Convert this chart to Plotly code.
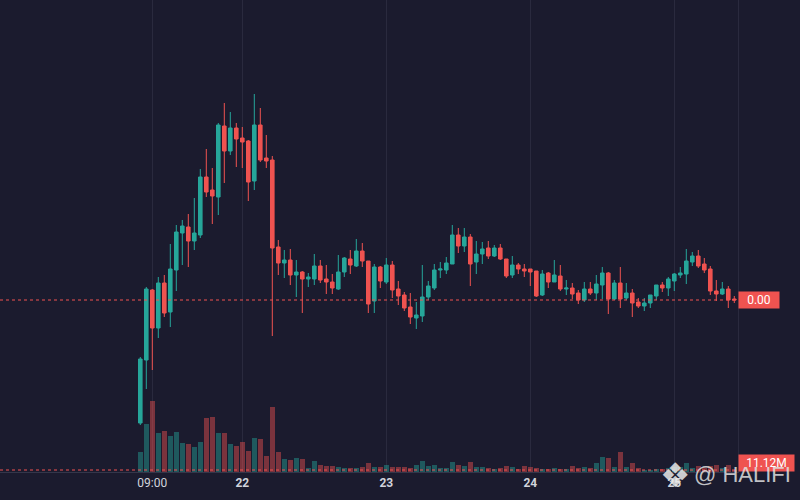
import plotly.graph_objects as go
import pandas as pd

BG = "#1b1b2e"
GRID = "#2a2a3e"
UP = "#26a69a"
DOWN = "#ef5350"

# hourly candles, 21 Mar 07:00 -> 25 Mar 10:00 (price units arbitrary)
times = pd.date_range("2024-03-21 07:00", periods=100, freq="h")

open_ = [77, 140, 210, 172, 217, 188, 230, 267, 273, 259,
         265, 323, 310, 303, 374, 349, 372, 362, 359, 319,
         375, 342, 340, 253, 237, 240, 225, 228, 221, 221,
         234, 221, 218, 211, 228, 241, 234, 249, 239, 199,
         233, 218, 235, 211, 205, 193, 182, 184, 203, 212,
         230, 230, 236, 265, 254, 263, 238, 246, 252, 244,
         252, 241, 225, 235, 231, 231, 229, 205, 227, 218,
         224, 211, 212, 207, 200, 211, 207, 215, 227, 201,
         217, 202, 207, 198, 194, 197, 204, 215, 212, 219,
         225, 226, 238, 244, 236, 231, 209, 206, 211, 201]
close = [141, 211, 172, 217, 187, 231, 268, 274, 259, 267,
         323, 308, 304, 375, 349, 372, 361, 358, 318, 375,
         340, 339, 252, 237, 240, 225, 228, 221, 223, 234,
         220, 218, 212, 228, 242, 235, 249, 239, 196, 233,
         219, 235, 210, 204, 192, 183, 185, 203, 214, 230,
         231, 237, 265, 254, 263, 236, 246, 251, 244, 252,
         241, 224, 235, 231, 229, 228, 204, 226, 218, 225,
         211, 212, 206, 200, 211, 207, 216, 227, 201, 217,
         201, 207, 197, 194, 197, 205, 215, 212, 221, 226,
         227, 239, 244, 234, 230, 209, 206, 211, 200, 200]
high = [143, 213, 211, 223, 225, 256, 275, 280, 286, 302,
        331, 351, 332, 377, 397, 388, 377, 373, 360, 406,
        392, 365, 344, 260, 250, 251, 240, 229, 227, 246,
        240, 235, 226, 245, 243, 250, 261, 257, 239, 236,
        234, 242, 239, 219, 208, 207, 198, 235, 219, 236,
        238, 243, 275, 272, 272, 266, 259, 258, 259, 255,
        256, 241, 244, 237, 236, 231, 229, 230, 228, 240,
        235, 220, 217, 210, 218, 218, 225, 233, 228, 220,
        233, 217, 211, 202, 202, 205, 215, 218, 223, 227,
        233, 251, 248, 250, 242, 234, 220, 218, 214, 204]
low = [75, 111, 130, 162, 183, 173, 209, 235, 233, 250,
       262, 303, 276, 285, 317, 345, 333, 332, 299, 310,
       338, 332, 164, 225, 222, 215, 203, 187, 213, 215,
       217, 206, 206, 210, 223, 226, 233, 233, 187, 187,
       212, 216, 202, 195, 189, 176, 171, 178, 200, 210,
       222, 226, 236, 247, 248, 214, 226, 236, 241, 243,
       240, 222, 222, 226, 223, 214, 203, 204, 212, 218,
       209, 205, 201, 196, 198, 205, 200, 201, 186, 200,
       192, 200, 183, 192, 189, 192, 200, 208, 204, 209,
       222, 216, 234, 232, 227, 205, 199, 205, 192, 197]

# volume in millions
volume = [111.2, 266.9, 394.8, 216.8, 228.0, 200.2, 222.4, 161.2, 155.7, 139.0,
          166.8, 300.2, 305.8, 216.8, 216.8, 155.7, 144.6, 166.8, 116.8, 189.0,
          183.5, 89.0, 361.4, 111.2, 72.3, 66.7, 77.8, 72.3, 22.2, 61.2,
          38.9, 33.4, 33.4, 27.8, 22.2, 22.2, 22.2, 27.8, 50.0, 27.8,
          27.8, 38.9, 27.8, 27.8, 27.8, 22.2, 38.9, 61.2, 33.4, 38.9,
          22.2, 22.2, 55.6, 38.9, 33.4, 55.6, 27.8, 27.8, 22.2, 16.7,
          22.2, 33.4, 27.8, 16.7, 33.4, 27.8, 22.2, 16.7, 16.7, 22.2,
          16.7, 16.7, 33.4, 22.2, 27.8, 22.2, 50.0, 83.4, 77.8, 27.8,
          111.2, 27.8, 50.0, 22.2, 11.1, 11.1, 16.7, 16.7, 22.2, 27.8,
          27.8, 50.0, 22.2, 33.4, 22.2, 33.4, 38.9, 22.2, 38.9, 11.12]

tick_vals = ["2024-03-21 09:00", "2024-03-22", "2024-03-23", "2024-03-24", "2024-03-25"]
tick_text = ["09:00", "<b>22</b>", "<b>23</b>", "<b>24</b>", "<b>25</b>"]

vol_colors = ["rgba(38,166,154,0.45)" if c >= o else "rgba(239,83,80,0.45)"
              for o, c in zip(open_, close)]

fig = go.Figure()

fig.add_trace(go.Bar(
    x=times, y=volume, yaxis="y2",
    marker=dict(color=vol_colors, line=dict(width=0)),
    width=3.0e6, hoverinfo="skip"
))

fig.add_trace(go.Candlestick(
    x=times, open=open_, high=high, low=low, close=close,
    increasing=dict(line=dict(color=UP, width=1), fillcolor=UP),
    decreasing=dict(line=dict(color=DOWN, width=1), fillcolor=DOWN),
))

# last price / last volume lines
fig.add_hline(y=close[-1], line=dict(color=DOWN, width=1, dash="3px,3px"))
fig.add_hline(y=volume[-1], yref="y2", line=dict(color=DOWN, width=1, dash="3px,3px"))

fig.add_annotation(xref="paper", x=1, xanchor="left", yref="y", y=close[-1],
                   text="0.00", showarrow=False, bgcolor=DOWN, width=38, height=14,
                   borderpad=1, font=dict(color="white", size=12, family="Roboto"))
fig.add_annotation(xref="paper", x=1, xanchor="left", yref="paper", y=0, yanchor="bottom",
                   text="11.12M", showarrow=False, bgcolor=DOWN, width=53, height=14,
                   borderpad=1, font=dict(color="white", size=12, family="Roboto"))

# watermark (drawn over the tag, as in the original)
fig.add_annotation(xref="paper", x=675 / 738, xanchor="center",
                   yref="paper", y=-3 / 472, yanchor="middle",
                   text="❖", showarrow=False,
                   font=dict(size=34, color="rgba(235,235,235,0.85)", family="DejaVu Sans"))
fig.add_annotation(xref="paper", x=742 / 738, xanchor="center",
                   yref="paper", y=-2 / 472, yanchor="middle",
                   text="@ HALIFI", showarrow=False,
                   font=dict(size=22, color="rgba(225,225,225,0.85)", family="Liberation Sans"))

fig.update_layout(
    width=800, height=500,
    margin=dict(l=0, r=62, t=0, b=28),
    paper_bgcolor=BG, plot_bgcolor=BG,
    showlegend=False,
    boxgap=0.15,
    bargap=0,
    xaxis=dict(
        type="date",
        range=["2024-03-20 07:37", "2024-03-25 10:37"],
        rangeslider=dict(visible=False),
        tickvals=tick_vals, ticktext=tick_text,
        showgrid=True, gridcolor=GRID, gridwidth=1,
        showline=True, linecolor="#34364a", linewidth=1,
        ticks="", zeroline=False,
        tickfont=dict(color="#d1d4dc", size=12, family="Roboto"),
    ),
    yaxis=dict(
        range=[28, 500], side="right",
        showgrid=False, zeroline=False, showticklabels=False,
        showline=True, linecolor=GRID, ticks="",
    ),
    yaxis2=dict(
        overlaying="y", range=[0, 2624], visible=False,
    ),
)

fig.write_html("out.html", config=dict(displayModeBar=False),
               post_script="document.body.style.margin='0';"
                           "document.body.style.background='" + BG + "';")
